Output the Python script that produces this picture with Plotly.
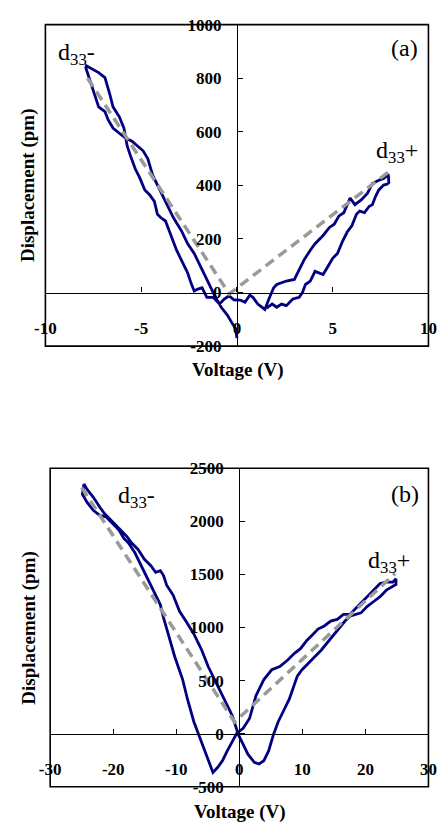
import plotly.graph_objects as go

# ---------------- data ----------------
# Panel (a): voltage (V) and displacement (pm) of the measured loop
va = [0, -0.07, -0.24, -0.49, -0.82, -0.99, -1.16, -1.32, -1.49, -1.74, -1.99, -2.23, -2.57, -2.90,
      -3.32, -3.57, -3.90, -4.10, -4.40, -4.65, -4.90, -5.48, -5.81, -6.06, -6.47, -6.72, -6.89,
      -7.22, -7.39, -7.64, -7.89, -7.86, -7.56, -7.22, -6.89, -6.72, -6.64, -6.47, -6.14, -5.90,
      -5.81, -5.73, -5.56, -5.31, -5.06, -4.81, -4.56, -4.31, -4.15, -3.98, -3.73, -3.48, -3.15,
      -2.90, -2.57, -2.40, -2.23, -2.07, -1.82, -1.57, -1.24, -0.91, -0.66, -0.41, -0.16, 0.17,
      0.42, 0.67, 0.84, 1.09, 1.46, 1.67, 1.92, 2.08, 2.58, 3.00, 3.25, 3.50, 3.83, 4.08, 4.50,
      4.83, 5.08, 5.33, 5.58, 5.91, 6.16, 6.49, 6.82, 7.07, 7.41, 7.66, 7.91, 7.93, 7.85, 7.66,
      7.41, 7.24, 7.07, 6.91, 6.66, 6.41, 6.24, 6.00, 5.75, 5.50, 5.25, 5.00, 4.75, 4.50, 4.08,
      3.83, 3.58, 3.42, 3.25, 2.92, 2.58, 2.33, 2.08, 1.84, 1.55]
da = [-170, -134, -116, -85, -55, -36, -12, 12, 36, 73, 109, 146, 182, 231,
      280, 316, 365, 398, 438, 499, 529, 565, 577, 590, 614, 644, 675,
      693, 729, 778, 839, 846, 833, 821, 802, 766, 741, 693, 656, 614,
      577, 547, 511, 462, 426, 383, 365, 340, 292, 280, 267, 219, 158,
      121, 73, 36, 6, 12, 18, -18, -18, -43, -24, -12, -27, -28,
      -36, -10, -18, -43, -63, -24, 18, 30, 43, 49, 85, 121, 158, 182, 213,
      243, 255, 286, 298, 353, 328, 346, 371, 407, 419, 426, 440, 410, 405, 401,
      383, 359, 328, 322, 298, 304, 292, 249, 225, 189, 146, 128, 97, 67, 79,
      43, 30, 0, -18, -24, -49, -43, -55, -43, -58]
# Panel (a): linear fits (d33- and d33+)
fit_va = [-7.8, -0.4, 8.1]
fit_da = [800, -5, 460]

# Panel (b): voltage (V) and displacement (pm) of the measured loop
vb = [-24.64, -24.89, -24.14, -23.12, -22.12, -21.11, -20.09, -19.09, -18.33, -17.58, -16.56,
      -15.80, -15.05, -14.03, -13.27, -12.52, -12.02, -11.26, -10.24, -8.98, -8.23, -7.21,
      -6.21, -5.45, -4.70, -4.18, -3.42, -2.67, -1.91, -1.15, -0.39, 0.61, 1.62, 2.64, 3.89,
      5.15, 6.42, 7.68, 8.70, 9.70, 10.71, 11.47, 12.48, 13.48, 14.50, 15.52, 16.52, 17.53,
      18.55, 19.55, 20.30, 21.32, 22.33, 23.33, 24.35, 24.85, 24.85, 23.33, 22.33, 21.32,
      20.30, 19.30, 18.29, 17.53, 16.77, 15.76, 14.76, 13.74, 12.98, 11.97, 10.97, 9.95, 9.20,
      8.70, 7.94, 7.18, 6.17, 5.41, 4.65, 3.89, 3.14, 2.38, 1.36, 0.61, -0.15, -0.65, -1.15,
      -1.91, -2.92, -3.94, -4.94, -5.95, -7.21, -8.48, -9.48, -10.50, -11.52, -12.02, -12.52,
      -13.27, -14.03, -15.05, -16.06, -17.06, -17.82, -18.83, -19.85, -20.61, -21.36, -22.12,
      -23.12, -24.14, -24.64]
db = [2353, 2255, 2178, 2102, 2056, 2041, 1979, 1919, 1842, 1796, 1704,
      1612, 1520, 1398, 1306, 1214, 1092, 939, 725, 510, 327, 113,
      -40, -162, -285, -365, -316, -254, -162, -71, 6, 51, 143, 358, 510,
      602, 633, 694, 755, 801, 878, 923, 985, 1015, 1061, 1077, 1123, 1123,
      1184, 1245, 1291, 1352, 1414, 1428, 1428, 1460, 1405, 1352, 1291, 1245,
      1199, 1138, 1123, 1107, 1061, 985, 909, 832, 786, 725, 664, 602, 542,
      450, 327, 235, 113, -9, -162, -254, -285, -270, -193, -101, -9, 83, 174,
      266, 388, 510, 633, 786, 939, 1061, 1153, 1306, 1398, 1490, 1536,
      1520, 1582, 1643, 1735, 1796, 1857, 1919, 1979, 2025, 2071, 2133,
      2224, 2300, 2353]
fit_vb = [-25, -0.75, 24.7]
fit_db = [2318, 110, 1509]

# tick values / labels (hyphen minus as in the original)
xa_ticks = [-10, -5, 0, 5, 10]
ya_ticks = [-200, 0, 200, 400, 600, 800, 1000]
xb_ticks = [-30, -20, -10, 0, 10, 20, 30]
yb_ticks = [-500, 0, 500, 1000, 1500, 2000, 2500]

x_title = "Voltage (V)"
y_title = "Displacement (pm)"

# ---------------- layout helpers ----------------
W, H = 447, 831
def fx(p): return p / W
def fy(p): return 1 - p / H

BLUE = "#000080"
GRAY = "#9A9A9A"
FONT = "Liberation Serif"

fig = go.Figure()
fig.add_trace(go.Scatter(x=va, y=da, mode="lines", line=dict(color=BLUE, width=2.8),
                         xaxis="x", yaxis="y", showlegend=False))
fig.add_trace(go.Scatter(x=fit_va, y=fit_da, mode="lines",
                         line=dict(color=GRAY, width=3.5, dash="10px,6px"),
                         xaxis="x", yaxis="y", showlegend=False))
fig.add_trace(go.Scatter(x=vb, y=db, mode="lines", line=dict(color=BLUE, width=2.8),
                         xaxis="x2", yaxis="y2", showlegend=False))
fig.add_trace(go.Scatter(x=fit_vb, y=fit_db, mode="lines",
                         line=dict(color=GRAY, width=3.5, dash="10px,6px"),
                         xaxis="x2", yaxis="y2", showlegend=False))

tickfont = dict(family=FONT, size=17, color="black", weight="bold")

def lbl(vals):
    return [str(v) for v in vals]

def xaxis(dom, pos, rng, tv):
    return dict(domain=dom, anchor="free", position=pos, range=rng,
                tickmode="array", tickvals=tv, ticktext=lbl(tv),
                showgrid=False, zeroline=False, showline=True, linecolor="black",
                linewidth=1.2, ticks="inside", ticklen=5, tickcolor="black",
                tickwidth=1.2, tickfont=tickfont, ticklabelstandoff=20, fixedrange=True)

def yaxis(dom, pos, rng, tv):
    return dict(domain=dom, anchor="free", position=pos, range=rng,
                tickmode="array", tickvals=tv, ticktext=lbl(tv),
                showgrid=False, zeroline=False, showline=True, linecolor="black",
                linewidth=1.2, ticks="inside", ticklen=5, tickcolor="black",
                tickwidth=1.2, tickfont=tickfont, ticklabelstandoff=12, fixedrange=True)

# plot-area geometry in pixels
ax0, ax1, ay0, ay1 = 36, 437, 16, 345
bx0, bx1, by0, by1 = 41, 437, 470, 796
xa_rng, ya_rng = [-10, 10], [-200, 1000]
xb_rng, yb_rng = [-30, 30], [-500, 2500]

def xpos(x0, x1, rng):
    return fx(x0 + (0 - rng[0]) / (rng[1] - rng[0]) * (x1 - x0))
def ypos(y0, y1, rng):
    return fy(y1 - (0 - rng[0]) / (rng[1] - rng[0]) * (y1 - y0))

fig.update_layout(
    width=W, height=H, margin=dict(l=0, r=0, t=0, b=0),
    paper_bgcolor="white", plot_bgcolor="white",
    xaxis=xaxis([fx(ax0), fx(ax1)], ypos(ay0, ay1, ya_rng), xa_rng, xa_ticks),
    yaxis=yaxis([fy(ay1), fy(ay0)], xpos(ax0, ax1, xa_rng), ya_rng, ya_ticks),
    xaxis2=xaxis([fx(bx0), fx(bx1)], ypos(by0, by1, yb_rng), xb_rng, xb_ticks),
    yaxis2=yaxis([fy(by1), fy(by0)], xpos(bx0, bx1, xb_rng), yb_rng, yb_ticks),
)

for xr, yr in [("x", "y"), ("x2", "y2")]:
    fig.add_shape(type="rect", xref=f"{xr} domain", yref=f"{yr} domain",
                  x0=0, x1=1, y0=0, y1=1, line=dict(color="black", width=1.6),
                  fillcolor="rgba(0,0,0,0)", layer="above")

ann_font = dict(family=FONT, size=24, color="black")
title_font = dict(family=FONT, size=19, color="black")
def ann(text, x, y, font, angle=0):
    fig.add_annotation(text=text, x=fx(x), y=fy(y), xref="paper", yref="paper",
                       showarrow=False, font=font, textangle=angle,
                       xanchor="center", yanchor="middle")

ann("(a)", 412, 40, ann_font)
ann("d<sub>33</sub>-", 69, 46, ann_font)
ann("d<sub>33</sub>+", 404, 146, ann_font)
ann("(b)", 412, 496, ann_font)
ann("d<sub>33</sub>-", 131, 499, ann_font)
ann("d<sub>33</sub>+", 396, 566, ann_font)

ann(f"<b>{x_title}</b>", 238, 369, title_font)
ann(f"<b>{y_title}</b>", 18, 180, title_font, -90)
ann(f"<b>{x_title}</b>", 240, 822, title_font)
ann(f"<b>{y_title}</b>", 18, 633, title_font, -90)

fig.write_html("out.html", config={"displayModeBar": False},
               post_script="document.body.style.margin='0';document.body.style.overflow='hidden';")
